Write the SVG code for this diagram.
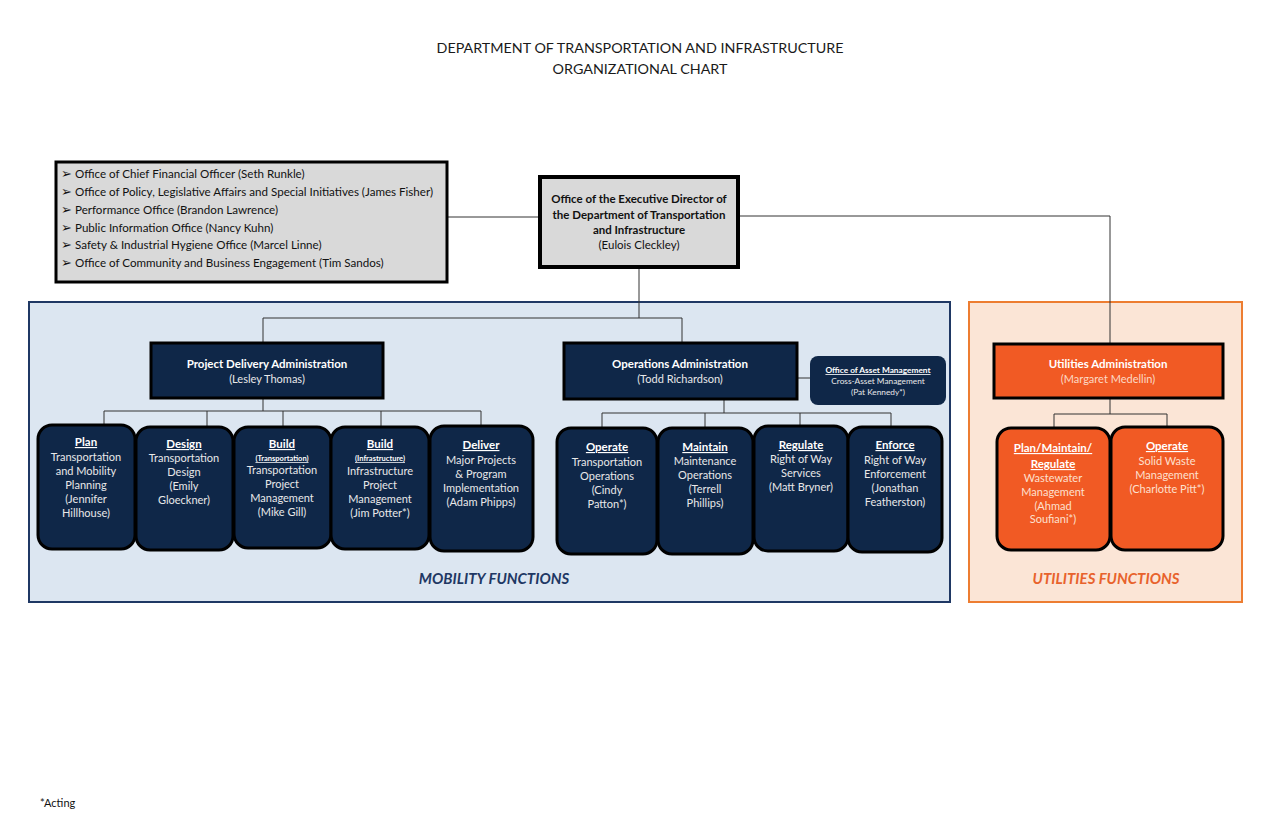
<svg xmlns="http://www.w3.org/2000/svg" width="1280" height="828" viewBox="0 0 1280 828">
<style>
text{font-family:Lato,"Open Sans","Liberation Sans",sans-serif;}
.title{font-size:14.3px;fill:#1a1a1a;text-anchor:middle;}
.bul{font-size:11.6px;fill:#111;}
.arr{font-family:"DejaVu Sans",sans-serif;font-size:13px;fill:#111;}
.exec{font-size:11.5px;font-weight:bold;fill:#111;text-anchor:middle;}
.execn{font-size:11.5px;fill:#111;text-anchor:middle;}
.admh{font-size:11.5px;font-weight:bold;fill:#fff;text-anchor:middle;}
.admn{font-size:11px;fill:#e8e8e8;text-anchor:middle;}
.uadmn{font-size:11px;fill:#fcd9c4;text-anchor:middle;}
.ch{font-size:11.5px;font-weight:bold;fill:#fff;text-anchor:middle;text-decoration:underline;}
.cs{font-size:7.5px;font-weight:bold;fill:#fff;text-anchor:middle;text-decoration:underline;}
.cb{font-size:11px;fill:#e8e8e8;text-anchor:middle;}
.ucb{font-size:11px;fill:#fde0cf;text-anchor:middle;}
.am{font-size:8.3px;font-weight:bold;fill:#fff;text-anchor:middle;text-decoration:underline;}
.amb{font-size:8.3px;fill:#e8e8e8;text-anchor:middle;}
.navy{fill:#0f2748;stroke:#000;stroke-width:3;}
.orng{fill:#f15a24;stroke:#000;stroke-width:3;}
.conn{stroke:#333;stroke-width:1;fill:none;}
.region{font-size:15px;font-weight:bold;font-style:italic;text-anchor:middle;}
</style>

<rect width="1280" height="828" fill="#fff"/>

<text class="title" x="640" y="53">DEPARTMENT OF TRANSPORTATION AND INFRASTRUCTURE</text>
<text class="title" x="640" y="74">ORGANIZATIONAL CHART</text>

<!-- regions -->
<g id="mobility-region">
<rect x="29" y="302" width="921" height="300" fill="#dce6f1" stroke="#1f3864" stroke-width="2"/>
</g>
<g id="utilities-region">
<rect x="969" y="302" width="273" height="300" fill="#fbe5d6" stroke="#ed7d31" stroke-width="2"/>
</g>

<!-- connectors -->
<g id="connectors" class="conn">
<path d="M447,217 H539"/>
<path d="M739,216 H1110 V343"/>
<path d="M639,268 V318"/>
<path d="M263,343 V318 H682 V343"/>
<path d="M263,398 V411"/>
<path d="M104,426 V411 H481 V426"/>
<path d="M207,411 V426"/>
<path d="M283,411 V426"/>
<path d="M381,411 V426"/>
<path d="M724,399 V413"/>
<path d="M602,428 V413 H891 V426"/>
<path d="M705,413 V427"/>
<path d="M800,413 V425"/>
<path d="M797,378 H810"/>
<path d="M1110,398 V414"/>
<path d="M1054,428 V414 H1167 V426"/>
</g>

<!-- staff offices -->
<g id="staff-offices">
<rect x="56" y="162" width="391" height="120" fill="#d9d9d9" stroke="#000" stroke-width="3"/>
<text class="arr" x="61" y="178">➢</text><text class="bul" x="75" y="178">Office of Chief Financial Officer (Seth Runkle)</text>
<text class="arr" x="61" y="196">➢</text><text class="bul" x="75" y="196">Office of Policy, Legislative Affairs and Special Initiatives (James Fisher)</text>
<text class="arr" x="61" y="214">➢</text><text class="bul" x="75" y="214">Performance Office (Brandon Lawrence)</text>
<text class="arr" x="61" y="232">➢</text><text class="bul" x="75" y="232">Public Information Office (Nancy Kuhn)</text>
<text class="arr" x="61" y="249">➢</text><text class="bul" x="75" y="249">Safety &amp; Industrial Hygiene Office (Marcel Linne)</text>
<text class="arr" x="61" y="267">➢</text><text class="bul" x="75" y="267">Office of Community and Business Engagement (Tim Sandos)</text>
</g>

<g id="executive-director">
<rect x="540" y="177" width="198" height="90" fill="#d9d9d9" stroke="#000" stroke-width="4"/>
<text class="exec" x="639" y="203">Office of the Executive Director of</text>
<text class="exec" x="639" y="219">the Department of Transportation</text>
<text class="exec" x="639" y="234">and Infrastructure</text>
<text class="execn" x="639" y="249">(Eulois Cleckley)</text>
</g>

<g id="project-delivery-admin">
<rect class="navy" x="151" y="343" width="232" height="55"/>
<text class="admh" x="267" y="368">Project Delivery Administration</text>
<text class="admn" x="267" y="383">(Lesley Thomas)</text>
</g>

<g id="operations-admin">
<rect class="navy" x="564" y="343" width="233" height="56"/>
<text class="admh" x="680" y="368">Operations Administration</text>
<text class="admn" x="680" y="383">(Todd Richardson)</text>
</g>

<g id="asset-management">
<rect x="810" y="356" width="136" height="49" rx="8" fill="#0f2748"/>
<text class="am" x="878" y="373">Office of Asset Management</text>
<text class="amb" x="878" y="384">Cross-Asset Management</text>
<text class="amb" x="878" y="395">(Pat Kennedy*)</text>
</g>

<g id="utilities-admin">
<rect class="orng" x="994" y="344" width="229" height="54"/>
<text class="admh" x="1108" y="368">Utilities Administration</text>
<text class="uadmn" x="1108" y="383">(Margaret Medellin)</text>
</g>

<g id="plan">
<rect class="navy" x="38" y="425" width="97" height="124" rx="14"/>
<text class="ch" x="86" y="446">Plan</text>
<text class="cb" x="86" y="461">Transportation</text>
<text class="cb" x="86" y="475">and Mobility</text>
<text class="cb" x="86" y="489">Planning</text>
<text class="cb" x="86" y="503">(Jennifer</text>
<text class="cb" x="86" y="517">Hillhouse)</text>
</g>

<g id="design">
<rect class="navy" x="136" y="427" width="97" height="123" rx="14"/>
<text class="ch" x="184" y="448">Design</text>
<text class="cb" x="184" y="462">Transportation</text>
<text class="cb" x="184" y="476">Design</text>
<text class="cb" x="184" y="490">(Emily</text>
<text class="cb" x="184" y="504">Gloeckner)</text>
</g>

<g id="build-transportation">
<rect class="navy" x="234" y="427" width="97" height="121" rx="14"/>
<text class="ch" x="282" y="448">Build</text>
<text class="cs" x="282" y="461">(Transportation)</text>
<text class="cb" x="282" y="474">Transportation</text>
<text class="cb" x="282" y="488">Project</text>
<text class="cb" x="282" y="502">Management</text>
<text class="cb" x="282" y="516">(Mike Gill)</text>
</g>

<g id="build-infrastructure">
<rect class="navy" x="331" y="427" width="98" height="122" rx="14"/>
<text class="ch" x="380" y="448">Build</text>
<text class="cs" x="380" y="461">(Infrastructure)</text>
<text class="cb" x="380" y="475">Infrastructure</text>
<text class="cb" x="380" y="489">Project</text>
<text class="cb" x="380" y="503">Management</text>
<text class="cb" x="380" y="517">(Jim Potter*)</text>
</g>

<g id="deliver">
<rect class="navy" x="430" y="426" width="103" height="125" rx="14"/>
<text class="ch" x="481" y="449">Deliver</text>
<text class="cb" x="481" y="464">Major Projects</text>
<text class="cb" x="481" y="478">&amp; Program</text>
<text class="cb" x="481" y="492">Implementation</text>
<text class="cb" x="481" y="506">(Adam Phipps)</text>
</g>

<g id="operate">
<rect class="navy" x="557" y="428" width="100" height="126" rx="14"/>
<text class="ch" x="607" y="451">Operate</text>
<text class="cb" x="607" y="466">Transportation</text>
<text class="cb" x="607" y="480">Operations</text>
<text class="cb" x="607" y="494">(Cindy</text>
<text class="cb" x="607" y="508">Patton*)</text>
</g>

<g id="maintain">
<rect class="navy" x="658" y="428" width="95" height="126" rx="14"/>
<text class="ch" x="705" y="451">Maintain</text>
<text class="cb" x="705" y="465">Maintenance</text>
<text class="cb" x="705" y="479">Operations</text>
<text class="cb" x="705" y="493">(Terrell</text>
<text class="cb" x="705" y="507">Phillips)</text>
</g>

<g id="regulate">
<rect class="navy" x="754" y="426" width="94" height="125" rx="14"/>
<text class="ch" x="801" y="449">Regulate</text>
<text class="cb" x="801" y="463">Right of Way</text>
<text class="cb" x="801" y="477">Services</text>
<text class="cb" x="801" y="491">(Matt Bryner)</text>
</g>

<g id="enforce">
<rect class="navy" x="848" y="427" width="94" height="125" rx="14"/>
<text class="ch" x="895" y="449">Enforce</text>
<text class="cb" x="895" y="464">Right of Way</text>
<text class="cb" x="895" y="478">Enforcement</text>
<text class="cb" x="895" y="492">(Jonathan</text>
<text class="cb" x="895" y="506">Featherston)</text>
</g>

<g id="plan-maintain-regulate">
<rect class="orng" x="997" y="428" width="113" height="122" rx="14"/>
<text class="ch" x="1053" y="452">Plan/Maintain/</text>
<text class="ch" x="1053" y="468">Regulate</text>
<text class="ucb" x="1053" y="482">Wastewater</text>
<text class="ucb" x="1053" y="496">Management</text>
<text class="ucb" x="1053" y="510">(Ahmad</text>
<text class="ucb" x="1053" y="523">Soufiani*)</text>
</g>

<g id="utilities-operate">
<rect class="orng" x="1111" y="427" width="112" height="123" rx="14"/>
<text class="ch" x="1167" y="450">Operate</text>
<text class="ucb" x="1167" y="465">Solid Waste</text>
<text class="ucb" x="1167" y="479">Management</text>
<text class="ucb" x="1167" y="493">(Charlotte Pitt*)</text>
</g>

<text class="region" x="494" y="584" fill="#1f3864">MOBILITY FUNCTIONS</text>
<text class="region" x="1106" y="584" fill="#e8622c">UTILITIES FUNCTIONS</text>

<text x="40" y="807" font-size="11" fill="#111">*Acting</text>
</svg>
